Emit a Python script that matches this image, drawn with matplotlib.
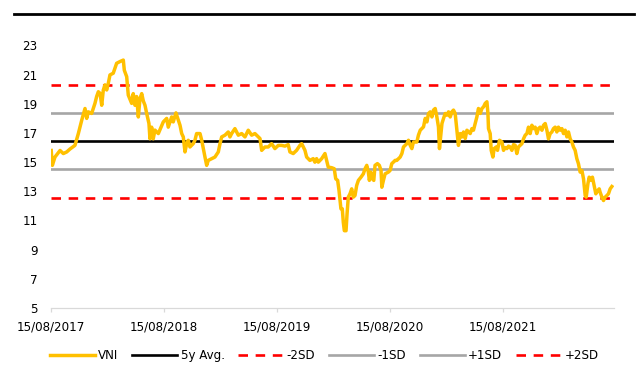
import matplotlib
matplotlib.use('Agg')
import matplotlib.pyplot as plt
from matplotlib.lines import Line2D
import pandas as pd

# ---- data (decimal years, VNI trailing P/E) ----
dates_dec = [
    2017.621, 2017.631, 2017.654, 2017.699, 2017.728, 2017.758, 2017.787, 2017.831, 2017.861, 2017.891,
    2017.920, 2017.935, 2017.949, 2017.979, 2018.008, 2018.023, 2018.038, 2018.053, 2018.068, 2018.082,
    2018.097, 2018.112, 2018.126, 2018.141, 2018.170, 2018.185, 2018.200, 2018.230, 2018.259, 2018.268,
    2018.289, 2018.303, 2018.333, 2018.347, 2018.362, 2018.377, 2018.392, 2018.407, 2018.422, 2018.436,
    2018.451, 2018.466, 2018.486, 2018.495, 2018.510, 2018.524, 2018.539, 2018.569, 2018.599, 2018.613,
    2018.643, 2018.657, 2018.687, 2018.701, 2018.725, 2018.746, 2018.761, 2018.776, 2018.790, 2018.805,
    2018.820, 2018.834, 2018.849, 2018.864, 2018.878, 2018.893, 2018.908, 2018.938, 2018.953, 2018.967,
    2018.982, 2018.997, 2019.011, 2019.041, 2019.070, 2019.100, 2019.115, 2019.130, 2019.159, 2019.188,
    2019.203, 2019.218, 2019.247, 2019.277, 2019.307, 2019.336, 2019.365, 2019.395, 2019.424, 2019.454,
    2019.469, 2019.484, 2019.513, 2019.542, 2019.572, 2019.601, 2019.631, 2019.661, 2019.690, 2019.719,
    2019.734, 2019.763, 2019.793, 2019.823, 2019.838, 2019.867, 2019.882, 2019.911, 2019.940, 2019.955,
    2019.970, 2019.985, 2020.015, 2020.044, 2020.059, 2020.073, 2020.103, 2020.126, 2020.139, 2020.156,
    2020.168, 2020.185, 2020.197, 2020.206, 2020.215, 2020.230, 2020.239, 2020.250, 2020.265, 2020.280,
    2020.294, 2020.309, 2020.324, 2020.339, 2020.362, 2020.383, 2020.398, 2020.413, 2020.427, 2020.436,
    2020.448, 2020.462, 2020.475, 2020.486, 2020.507, 2020.524, 2020.539, 2020.546, 2020.560, 2020.575,
    2020.604, 2020.619, 2020.634, 2020.648, 2020.663, 2020.678, 2020.693, 2020.708, 2020.723, 2020.737,
    2020.767, 2020.781, 2020.796, 2020.811, 2020.825, 2020.855, 2020.869, 2020.885, 2020.914, 2020.929,
    2020.944, 2020.958, 2020.973, 2020.988, 2021.002, 2021.017, 2021.032, 2021.046, 2021.055, 2021.068,
    2021.077, 2021.091, 2021.106, 2021.121, 2021.135, 2021.150, 2021.165, 2021.179, 2021.194, 2021.209,
    2021.223, 2021.239, 2021.254, 2021.268, 2021.283, 2021.298, 2021.327, 2021.342, 2021.356, 2021.371,
    2021.386, 2021.400, 2021.416, 2021.431, 2021.445, 2021.460, 2021.475, 2021.484, 2021.489, 2021.504,
    2021.513, 2021.528, 2021.539, 2021.557, 2021.569, 2021.586, 2021.608, 2021.622, 2021.637, 2021.652,
    2021.666, 2021.681, 2021.696, 2021.710, 2021.725, 2021.740, 2021.754, 2021.785, 2021.799, 2021.814,
    2021.829, 2021.843, 2021.858, 2021.873, 2021.887, 2021.902, 2021.917, 2021.931, 2021.946, 2021.962,
    2021.976, 2021.991, 2022.006, 2022.020, 2022.035, 2022.050, 2022.064, 2022.079, 2022.094, 2022.108,
    2022.123, 2022.139, 2022.153, 2022.168, 2022.183, 2022.197, 2022.212, 2022.227, 2022.241, 2022.256,
    2022.271, 2022.285, 2022.300, 2022.316, 2022.330, 2022.345, 2022.354, 2022.369, 2022.380, 2022.398,
    2022.409, 2022.427, 2022.439, 2022.457, 2022.469, 2022.477, 2022.493, 2022.507, 2022.522, 2022.537,
    2022.551, 2022.566, 2022.581,
]

vni = [
    15.80, 14.78, 15.35, 15.80, 15.59, 15.70, 15.90, 16.15, 16.96, 17.88,
    18.68, 18.00, 18.45, 18.34, 19.03, 19.50, 19.83, 19.72, 18.90, 19.95,
    20.30, 19.95, 20.40, 20.98, 21.10, 21.44, 21.78, 21.90, 22.00, 21.30,
    20.86, 19.60, 19.03, 19.70, 18.90, 19.50, 18.10, 19.37, 19.70, 19.20,
    18.90, 18.34, 17.65, 16.60, 17.40, 16.60, 17.20, 16.96, 17.50, 17.76,
    18.00, 17.40, 18.10, 17.76, 18.38, 17.88, 17.53, 16.96, 16.73, 15.70,
    16.27, 16.50, 16.04, 16.16, 16.27, 16.50, 16.96, 16.96, 16.50, 15.93,
    15.35, 14.78, 15.12, 15.24, 15.35, 15.70, 16.27, 16.73, 16.85, 17.07,
    16.73, 16.96, 17.30, 16.85, 16.96, 16.73, 17.19, 16.85, 16.96, 16.73,
    16.62, 15.81, 16.04, 16.04, 16.27, 15.93, 16.15, 16.15, 16.10, 16.20,
    15.70, 15.59, 15.81, 16.16, 16.27, 15.81, 15.35, 15.12, 15.24, 15.00,
    15.24, 15.00, 15.24, 15.59, 15.12, 14.66, 14.62, 14.55, 13.86, 13.75,
    13.06, 11.80, 11.80, 10.87, 10.30, 10.30, 11.45, 12.60, 12.83, 13.17,
    12.60, 12.71, 13.40, 13.75, 13.97, 14.20, 14.55, 14.78, 14.32, 13.75,
    14.32, 13.86, 13.75, 14.78, 14.90, 14.78, 14.43, 13.28, 13.75, 14.20,
    14.32, 14.43, 14.90, 15.00, 15.12, 15.12, 15.24, 15.35, 15.59, 16.04,
    16.27, 16.50, 16.16, 15.93, 16.38, 16.38, 16.85, 17.19, 17.42, 18.00,
    17.76, 18.34, 18.45, 18.10, 18.57, 18.68, 18.10, 17.42, 15.93, 16.96,
    17.65, 18.00, 18.34, 18.22, 18.45, 18.10, 18.45, 18.57, 18.34, 17.19,
    16.15, 16.96, 16.73, 17.07, 16.62, 17.19, 16.96, 17.30, 17.19, 17.65,
    18.10, 18.68, 18.34, 18.68, 18.79, 19.03, 19.14, 18.34, 17.30, 16.96,
    15.81, 15.35, 15.93, 16.04, 15.81, 16.50, 16.38, 15.81, 16.00, 15.93,
    16.10, 16.04, 15.81, 16.20, 16.16, 15.59, 16.04, 16.27, 16.60, 16.85,
    16.96, 17.40, 16.96, 17.53, 17.30, 17.40, 16.96, 17.30, 17.40, 17.19,
    17.53, 17.65, 17.19, 16.60, 16.96, 17.07, 17.30, 17.40, 17.07, 17.40,
    17.19, 17.30, 16.96, 17.19, 16.73, 17.07, 16.60, 16.38, 16.04, 15.81,
    15.24, 14.90, 14.32, 14.43, 13.86, 12.71, 12.60, 13.52, 13.97, 13.75,
    13.97, 13.28, 12.83, 13.06, 13.17, 12.94, 12.60, 12.37, 12.60, 12.71,
    12.83, 13.17, 13.33,
]

avg_5y = 16.43
sd_5y = 1.93

tick_labels = ['15/08/2017', '15/08/2018', '15/08/2019', '15/08/2020', '15/08/2021']
y_ticks = [5, 7, 9, 11, 13, 15, 17, 19, 21, 23]
x_end = '2022-08-08'

series_labels = ['VNI', '5y Avg.', '-2SD', '-1SD', '+1SD', '+2SD']


def dec_to_ts(t):
    y = int(t)
    start = pd.Timestamp(year=y, month=1, day=1)
    end = pd.Timestamp(year=y + 1, month=1, day=1)
    return start + (end - start) * (t - y)


dates = [dec_to_ts(t) for t in dates_dec]
tick_dates = [pd.to_datetime(l, format='%d/%m/%Y') for l in tick_labels]

plt.rcParams['font.family'] = ['DejaVu Sans']
FS = 8.6

fig = plt.figure(figsize=(6.37, 3.75), dpi=100)
ax = fig.add_axes([0.0801, 0.1787, 0.8838, 0.7000])

ORANGE = '#FFC000'
RED = '#FF0000'
GRAY = '#A6A6A6'
LW = 1.9
dash = (0, (3.6, 2.9))

h_vni, = ax.plot(dates, vni, color=ORANGE, lw=2.5, zorder=5,
                 solid_joinstyle='round', label=series_labels[0])
h_avg = ax.axhline(avg_5y, color='black', lw=LW, zorder=3, label=series_labels[1])
h_m2 = ax.axhline(avg_5y - 2 * sd_5y, color=RED, lw=LW, ls=dash, zorder=3, label=series_labels[2])
h_m1 = ax.axhline(avg_5y - sd_5y, color=GRAY, lw=LW, zorder=3, label=series_labels[3])
h_p1 = ax.axhline(avg_5y + sd_5y, color=GRAY, lw=LW, zorder=3, label=series_labels[4])
h_p2 = ax.axhline(avg_5y + 2 * sd_5y, color=RED, lw=LW, ls=dash, zorder=3, label=series_labels[5])

ax.set_xlim(tick_dates[0], pd.Timestamp(x_end))
ax.set_ylim(y_ticks[0], y_ticks[-1])
ax.set_xticks(tick_dates)
ax.set_xticklabels(tick_labels)
ax.set_yticks(y_ticks)
ax.set_yticklabels([str(v) for v in y_ticks])

for s in ['top', 'right', 'left']:
    ax.spines[s].set_visible(False)
ax.spines['bottom'].set_color('#D9D9D9')
ax.spines['bottom'].set_linewidth(0.9)

ax.tick_params(axis='x', length=3.2, width=0.9, color='#D9D9D9', pad=6,
               labelsize=FS, labelcolor='black')
ax.tick_params(axis='y', length=0, pad=9.5, labelsize=FS, labelcolor='black')

handles = [h_vni, h_avg, h_m2, h_m1, h_p1, h_p2]
fig.legend(handles, series_labels, loc='center', bbox_to_anchor=(0.509, 0.051),
           ncol=6, frameon=False, handlelength=3.75, handletextpad=0.3,
           columnspacing=1.15, fontsize=FS)

# top rule line of the chart frame
fig.add_artist(Line2D([0.022, 0.995], [0.962, 0.962], transform=fig.transFigure,
                      color='black', lw=2.0))

fig.savefig('out.png', dpi=100)
